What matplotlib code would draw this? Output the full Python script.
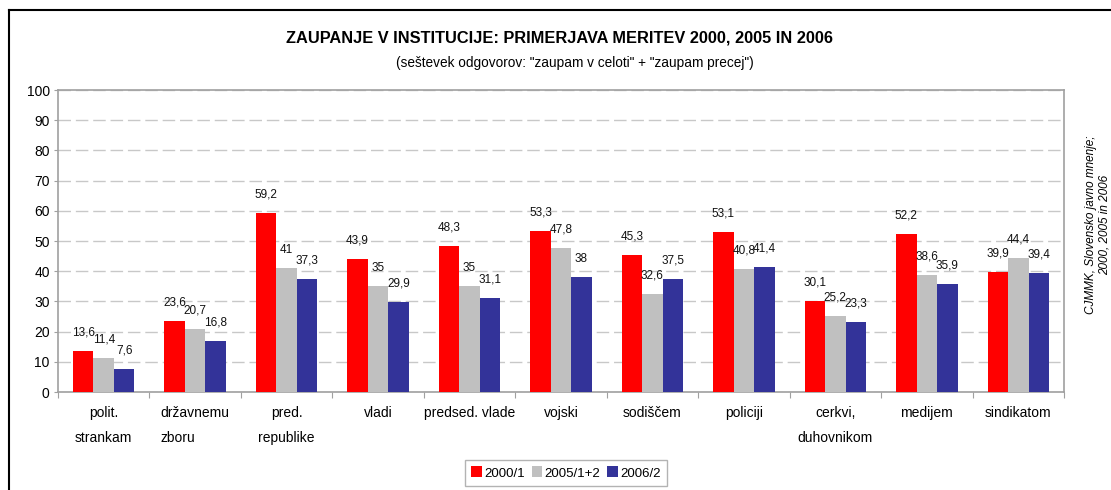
import matplotlib
matplotlib.use("Agg")
import matplotlib.pyplot as plt
import numpy as np
from matplotlib.lines import Line2D
from matplotlib.patches import Patch

plt.rcParams['font.family'] = ['Liberation Sans Narrow', 'Liberation Sans', 'DejaVu Sans']

categories = ["polit.\nstrankam", "državnemu\nzboru", "pred.\nrepublike", "vladi",
              "predsed. vlade", "vojski", "sodiščem", "policiji",
              "cerkvi,\nduhovnikom", "medijem", "sindikatom"]
series_names = ["2000/1", "2005/1+2", "2006/2"]
v2000 = [13.6, 23.6, 59.2, 43.9, 48.3, 53.3, 45.3, 53.1, 30.1, 52.2, 39.9]
v2005 = [11.4, 20.7, 41, 35, 35, 47.8, 32.6, 40.8, 25.2, 38.6, 44.4]
v2006 = [7.6, 16.8, 37.3, 29.9, 31.1, 38, 37.5, 41.4, 23.3, 35.9, 39.4]
colors = ["#FF0000", "#C0C0C0", "#333399"]
yticks = list(range(0, 101, 10))

fig = plt.figure(figsize=(11.11, 4.9), dpi=100)
ax = fig.add_axes([58/1111, 1-392/490, (1064-58)/1111, (392-90)/490])

x = np.arange(len(categories))
w = 0.224
for i, (vals, c) in enumerate(zip([v2000, v2005, v2006], colors)):
    pos = x + (i - 1) * w
    ax.bar(pos, vals, width=w, color=c, zorder=3)
    for p, v in zip(pos, vals):
        lab = ("%g" % v).replace(".", ",")
        ax.annotate(lab, (p, v), xytext=(0, 9), textcoords="offset points",
                    ha="center", va="bottom", fontsize=8.5, color="#111111")

ax.set_xlim(-0.5, len(categories) - 0.5)
ax.set_ylim(0, 100)
ax.set_yticks(yticks)
ax.set_yticklabels([str(t) for t in yticks], fontsize=10)
ax.yaxis.grid(True, color="#C8C8C8", linestyle=(0, (9, 3.5)), linewidth=1, zorder=0)
ax.set_axisbelow(True)
for s in ax.spines.values():
    s.set_color("#A0A0A0")
    s.set_linewidth(1.2)
ax.tick_params(axis="y", length=3, color="#A0A0A0", pad=3)

ax.set_xticks(np.arange(-0.5, len(categories)), minor=False)
ax.set_xticklabels([])
ax.tick_params(axis="x", length=4, color="#A0A0A0")
ax.set_xticks(x, minor=True)
ax.set_xticklabels(categories, minor=True, fontsize=10, linespacing=2.0)
ax.tick_params(axis="x", which="minor", length=0, pad=10)
for lbl, name in zip(ax.get_xticklabels(minor=True), categories):
    if name.startswith("državnemu"):
        lbl.set_multialignment("left")

fig.text(560/1111, 1-38/490, "ZAUPANJE V INSTITUCIJE: PRIMERJAVA MERITEV 2000, 2005 IN 2006",
         ha="center", va="center", fontsize=11.8, fontweight="bold")
fig.text(575/1111, 1-63/490, '(seštevek odgovorov: "zaupam v celoti" + "zaupam precej")',
         ha="center", va="center", fontsize=9.8)
fig.text(1098/1111, 1-225/490, "CJMMK, Slovensko javno mnenje;\n2000, 2005 in 2006",
         ha="center", va="center", rotation=90, fontsize=8.5, style="italic")

handles = [Patch(facecolor=c, edgecolor="none") for c in colors]
leg = fig.legend(handles, series_names, loc="center", bbox_to_anchor=(566/1111, 1-473/490),
                 ncol=3, fontsize=9.5, frameon=True, fancybox=False, handlelength=0.8,
                 handleheight=0.9, handletextpad=0.2, columnspacing=0.5, borderpad=0.5)
leg.get_frame().set_edgecolor("#A0A0A0")
leg.get_frame().set_linewidth(1)

fig.add_artist(Line2D([9/1111, 9/1111], [0, 1-10/490], color="black", linewidth=1.5))
fig.add_artist(Line2D([9/1111, 1], [1-10/490, 1-10/490], color="black", linewidth=1.5))

fig.savefig("out.png", dpi=100)
